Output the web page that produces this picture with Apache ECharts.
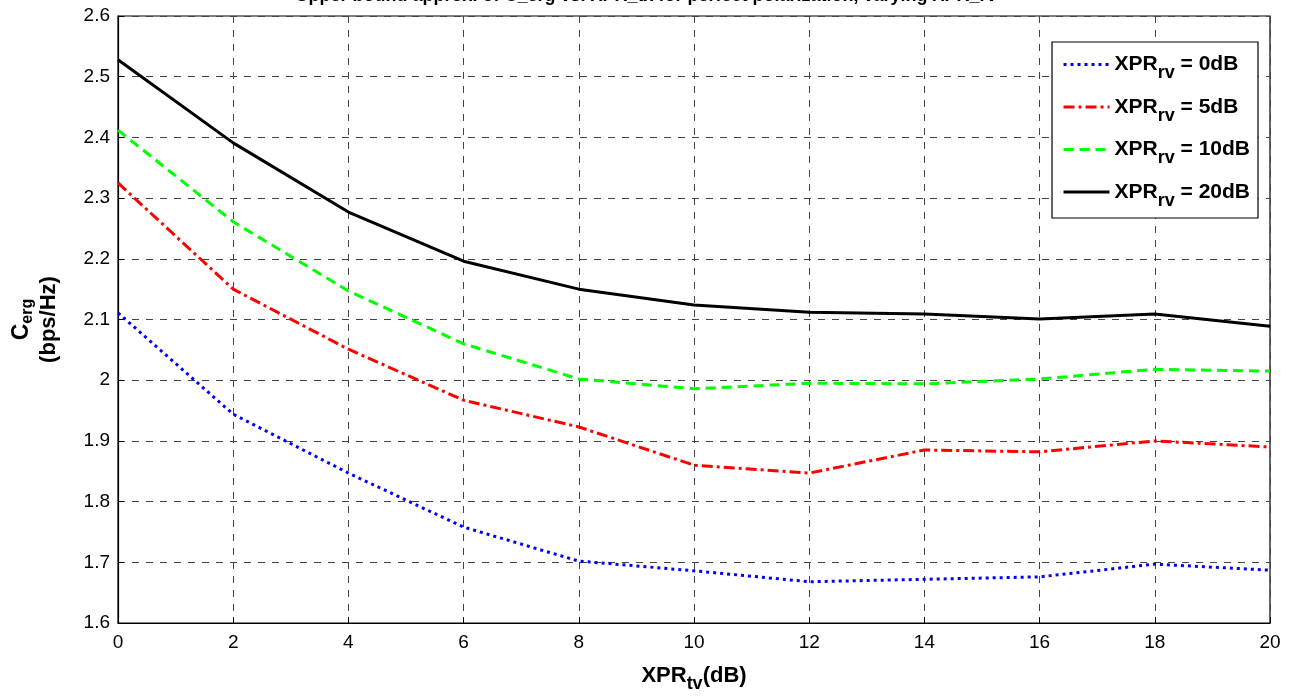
<!DOCTYPE html>
<html>
<head>
<meta charset="utf-8">
<script src="https://cdn.jsdelivr.net/npm/echarts@6/dist/echarts.min.js"></script>
<style>html,body{margin:0;padding:0;background:#fff}#c{width:1292px;height:698px}</style>
</head>
<body>
<div id="c"></div>
<script>
const xprTx = [0, 2, 4, 6, 8, 10, 12, 14, 16, 18, 20];
const rv0 = [2.111, 1.944, 1.847, 1.758, 1.702, 1.686, 1.668, 1.672, 1.676, 1.697, 1.687];
const rv5 = [2.325, 2.150, 2.051, 1.967, 1.923, 1.860, 1.847, 1.885, 1.882, 1.900, 1.890];
const rv10 = [2.412, 2.261, 2.147, 2.060, 2.002, 1.986, 1.995, 1.994, 2.002, 2.018, 2.015];
const rv20 = [2.528, 2.391, 2.277, 2.196, 2.150, 2.124, 2.112, 2.109, 2.101, 2.109, 2.089];
const seriesNames = ['0dB', '5dB', '10dB', '20dB'];

const font = 'Liberation Sans, Arial, sans-serif';
const chart = echarts.init(document.getElementById('c'));
const pairs = a => xprTx.map((x, i) => [x, a[i]]);
const mk = (name, data, color, type, width) => ({
  name, type: 'line', data: pairs(data), showSymbol: false, symbol: 'none',
  lineStyle: { color, type, width }, itemStyle: { color }, z: 5
});
chart.setOption({
  animation: false,
  title: {
    text: 'Upper bound approx. of C_erg vs. XPR_tx for perfect polarization, varying XPR_rv',
    left: 'center', top: -18,
    textStyle: { fontFamily: font, fontWeight: 'bold', fontSize: 18, color: '#000' }
  },
  grid: { left: 118, right: 22, top: 16, bottom: 75, show: true, borderColor: '#000', borderWidth: 1.2 },
  legend: {
    orient: 'vertical', right: 34, top: 42,
    backgroundColor: '#fff', borderColor: '#000', borderWidth: 1.2,
    padding: [12, 8, 8, 10], itemGap: 14, itemWidth: 46, itemHeight: 20,
    itemStyle: { opacity: 0 },
    lineStyle: { width: 3 },
    data: seriesNames,
    formatter: n => '{a|XPR}{s|rv}{a| = ' + n + '}',
    textStyle: {
      rich: {
        a: { fontFamily: font, fontWeight: 'bold', fontSize: 21, color: '#000' },
        s: { fontFamily: font, fontWeight: 'bold', fontSize: 18, color: '#000', padding: [18, 0, 0, 0] }
      }
    }
  },
  xAxis: {
    type: 'value', min: 0, max: 20, interval: 2,
    name: '{a|XPR}{s|tv}{a|(dB)}', nameLocation: 'middle', nameGap: 36,
    nameTextStyle: {
      rich: {
        a: { fontFamily: font, fontWeight: 'bold', fontSize: 22, color: '#000' },
        s: { fontFamily: font, fontWeight: 'bold', fontSize: 18, color: '#000', padding: [16, 0, 0, 0] }
      }
    },
    axisLine: { lineStyle: { color: '#000', width: 1.2 } },
    axisTick: { inside: true, length: 6, lineStyle: { color: '#000' } },
    axisLabel: { fontFamily: font, fontSize: 19, color: '#000', margin: 10 },
    splitLine: { show: true, lineStyle: { color: '#444', type: [7, 7], width: 1 } }
  },
  yAxis: {
    type: 'value', min: 1.6, max: 2.6, interval: 0.1,
    name: '{c|C}{e|erg}\n{b|(bps/Hz)}', nameLocation: 'middle', nameGap: 56, nameRotate: 90,
    nameTextStyle: {
      align: 'center',
      rich: {
        c: { fontFamily: font, fontWeight: 'bold', fontSize: 23, color: '#000' },
        e: { fontFamily: font, fontWeight: 'bold', fontSize: 16, color: '#000', padding: [12, 0, 0, 0] },
        b: { fontFamily: font, fontWeight: 'bold', fontSize: 22, color: '#000', lineHeight: 26 }
      }
    },
    axisLine: { show: true, lineStyle: { color: '#000', width: 1.2 } },
    axisTick: { show: true, inside: true, length: 6, lineStyle: { color: '#000' } },
    axisLabel: { fontFamily: font, fontSize: 19, color: '#000', margin: 8,
      formatter: v => String(Math.round(v * 10) / 10) },
    splitLine: { show: true, lineStyle: { color: '#444', type: [7, 7], width: 1 } }
  },
  series: [
    mk(seriesNames[0], rv0, '#0000ff', [3, 4], 3),
    mk(seriesNames[1], rv5, '#ff0000', [11, 4, 3, 4], 3),
    mk(seriesNames[2], rv10, '#00ff00', [10, 6], 3),
    mk(seriesNames[3], rv20, '#000000', 'solid', 3)
  ]
});
</script>
</body>
</html>
